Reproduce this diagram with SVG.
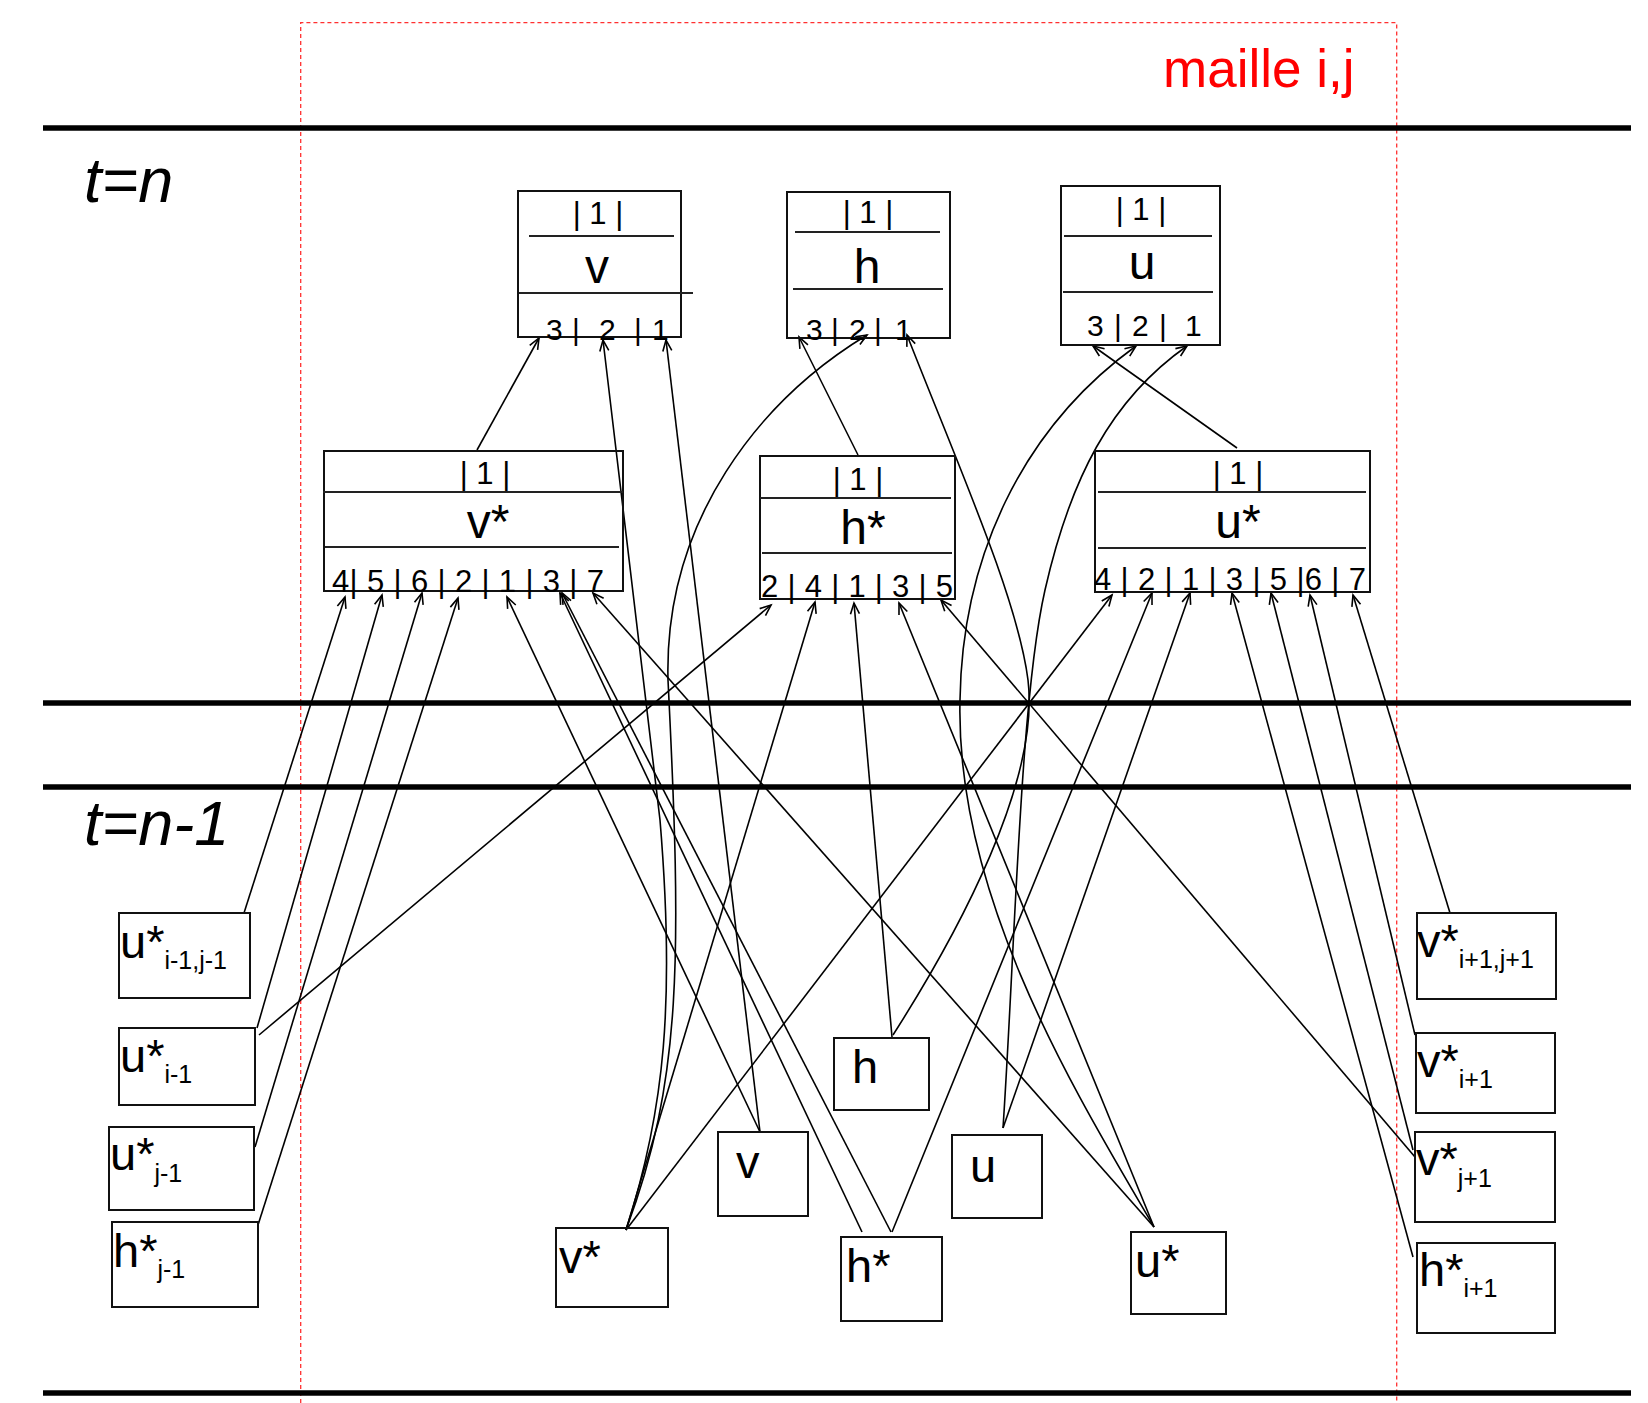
<svg xmlns="http://www.w3.org/2000/svg" width="1648" height="1403" viewBox="0 0 1648 1403">
<defs>
<style>
text{font-family:"Liberation Sans",Arial,sans-serif;fill:#000}
.box{fill:none;stroke:#111;stroke-width:2}
.sep{stroke:#222;stroke-width:2}
.thick{stroke:#000;stroke-width:5.5}
.c{fill:none;stroke:#000;stroke-width:1.6;marker-end:url(#ah)}
.one{font-size:31px;text-anchor:middle}
.big{font-size:48px;text-anchor:middle}
.port{font-size:30px}
.port7{font-size:31px}
.lbl{font-size:47px}
.sub{font-size:25px}
.t{font-size:63px;font-style:italic}
</style>
<marker id="ah" markerUnits="userSpaceOnUse" markerWidth="16" markerHeight="14" refX="0" refY="0" viewBox="-13 -7 16 14" orient="auto" overflow="visible">
<path d="M-11,-4.5 L0,0 L-11,4.5" fill="none" stroke="#000" stroke-width="1.6"/>
</marker>
</defs>
<rect width="1648" height="1403" fill="#fff"/>

<g id="frame">
<path d="M300.7,1403 V22.7 H1396.7 V1403" fill="none" stroke="#ff3030" stroke-width="1.3" stroke-dasharray="4,3"/>
<text x="1163" y="87" font-size="53" style="fill:#ff0000">maille i,j</text>
<line class="thick" x1="43" y1="128" x2="1631" y2="128"/>
<line class="thick" x1="43" y1="703" x2="1631" y2="703"/>
<line class="thick" x1="43" y1="787" x2="1631" y2="787"/>
<line class="thick" x1="43" y1="1393" x2="1631" y2="1393"/>
<text class="t" x="84" y="202">t=n</text>
<text class="t" x="84" y="845">t=n-1</text>
</g>

<g id="connectors">
<path class="c" d="M477,450 L539,338"/>
<path class="c" d="M626,1230 C665,1110 675,1000 660,820 L603,340"/>
<path class="c" d="M760,1132 L666,340"/>
<path class="c" d="M858,455 L799,337"/>
<path class="c" d="M626,1230 C682,1080 682,960 668,680 C664,520 760,400 867,335"/>
<path class="c" d="M893,1035 C960,930 1040,780 1028,680 C1018,600 960,470 907,335"/>
<path class="c" d="M1237,448 L1093,346"/>
<path class="c" d="M1154,1227 C1080,1100 955,900 960,700 C962,560 1020,430 1136,346"/>
<path class="c" d="M1003,1128 C1015,950 1020,700 1045,590 C1070,480 1110,400 1187,346"/>
<path class="c" d="M244,913 L345,597"/>
<path class="c" d="M257,1028 L382,595"/>
<path class="c" d="M255,1147 L422,593"/>
<path class="c" d="M258,1225 L458,598"/>
<path class="c" d="M760,1132 L507,597"/>
<path class="c" d="M862,1232 L560,593"/>
<path class="c" d="M891,1232 L562,593"/>
<path class="c" d="M1154,1227 L593,593"/>
<path class="c" d="M259,1035 L771,605"/>
<path class="c" d="M626,1230 L815,602"/>
<path class="c" d="M892,1037 L854,603"/>
<path class="c" d="M1154,1227 L899,603"/>
<path class="c" d="M1415,1157 L941,600"/>
<path class="c" d="M626,1230 L1112,595"/>
<path class="c" d="M892,1232 L1152,593"/>
<path class="c" d="M1003,1128 L1190,593"/>
<path class="c" d="M1413,1257 L1232,593"/>
<path class="c" d="M1413,1150 L1271,593"/>
<path class="c" d="M1415,1035 L1310,595"/>
<path class="c" d="M1450,913 L1353,595"/>
</g>

<g id="node-v">
<rect class="box" x="518" y="191" width="163" height="146"/>
<line class="sep" x1="529" y1="236" x2="674" y2="236"/>
<line class="sep" x1="519" y1="293" x2="693" y2="293"/>
<text class="one" x="598" y="224">| 1 |</text>
<text class="big" x="597" y="283">v</text>
<text class="port" x="546 572 582 599 619 634 652" y="340">3| 2 |1</text>
</g>
<g id="node-h">
<rect class="box" x="787" y="192" width="163" height="146"/>
<line class="sep" x1="795" y1="232" x2="940" y2="232"/>
<line class="sep" x1="793" y1="289" x2="943" y2="289"/>
<text class="one" x="868" y="223">| 1 |</text>
<text class="big" x="867" y="283">h</text>
<text class="port" x="806 831 849 874 895" y="340">3|2|1</text>
</g>
<g id="node-u">
<rect class="box" x="1061" y="186" width="159" height="159"/>
<line class="sep" x1="1064" y1="236" x2="1212" y2="236"/>
<line class="sep" x1="1063" y1="292" x2="1213" y2="292"/>
<text class="one" x="1141" y="220">| 1 |</text>
<text class="big" x="1142" y="279">u</text>
<text class="port" x="1087 1114 1132 1159 1185" y="336">3|2|1</text>
</g>

<g id="node-vstar">
<rect class="box" x="324" y="451" width="299" height="140"/>
<line class="sep" x1="323" y1="492" x2="623" y2="492"/>
<line class="sep" x1="325" y1="547" x2="619" y2="547"/>
<text class="one" x="485" y="484">| 1 |</text>
<text class="big" x="488" y="538">v*</text>
<text class="port7" x="332" y="592" textLength="272" lengthAdjust="spacing">4| 5 | 6 | 2 | 1 | 3 | 7</text>
</g>
<g id="node-hstar">
<rect class="box" x="760" y="456" width="195" height="143"/>
<line class="sep" x1="760" y1="498" x2="951" y2="498"/>
<line class="sep" x1="762" y1="553" x2="952" y2="553"/>
<text class="one" x="858" y="490">| 1 |</text>
<text class="big" x="863" y="544">h*</text>
<text class="port7" x="761" y="597" textLength="192" lengthAdjust="spacing">2 | 4 | 1 | 3 | 5</text>
</g>
<g id="node-ustar">
<rect class="box" x="1095" y="451" width="275" height="141"/>
<line class="sep" x1="1098" y1="492" x2="1366" y2="492"/>
<line class="sep" x1="1098" y1="548" x2="1366" y2="548"/>
<text class="one" x="1238" y="484">| 1 |</text>
<text class="big" x="1238" y="538">u*</text>
<text class="port7" x="1094" y="590" textLength="272" lengthAdjust="spacing">4 | 2 | 1 | 3 | 5 |6 | 7</text>
</g>

<g id="node-ustar-im1jm1">
<rect class="box" x="119" y="913" width="131" height="85"/>
<text class="lbl" x="120" y="958">u*<tspan class="sub" dy="11">i-1,j-1</tspan></text>
</g>
<g id="node-ustar-im1">
<rect class="box" x="119" y="1028" width="136" height="77"/>
<text class="lbl" x="120" y="1072">u*<tspan class="sub" dy="11">i-1</tspan></text>
</g>
<g id="node-ustar-jm1">
<rect class="box" x="109" y="1127" width="145" height="83"/>
<text class="lbl" x="110" y="1170">u*<tspan class="sub" dy="12">j-1</tspan></text>
</g>
<g id="node-hstar-jm1">
<rect class="box" x="112" y="1222" width="146" height="85"/>
<text class="lbl" x="113" y="1267">h*<tspan class="sub" dy="11">j-1</tspan></text>
</g>

<g id="node-vstar-old">
<rect class="box" x="556" y="1228" width="112" height="79"/>
<text class="lbl" x="559" y="1273">v*</text>
</g>
<g id="node-v-old">
<rect class="box" x="718" y="1132" width="90" height="84"/>
<text class="lbl" x="736" y="1178">v</text>
</g>
<g id="node-h-old">
<rect class="box" x="834" y="1038" width="95" height="72"/>
<text class="lbl" x="852" y="1083">h</text>
</g>
<g id="node-hstar-old">
<rect class="box" x="841" y="1237" width="101" height="84"/>
<text class="lbl" x="846" y="1282">h*</text>
</g>
<g id="node-u-old">
<rect class="box" x="952" y="1135" width="90" height="83"/>
<text class="lbl" x="970" y="1182">u</text>
</g>
<g id="node-ustar-old">
<rect class="box" x="1131" y="1232" width="95" height="82"/>
<text class="lbl" x="1135" y="1277">u*</text>
</g>

<g id="node-vstar-ip1jp1">
<rect class="box" x="1417" y="913" width="139" height="86"/>
<text class="lbl" x="1417" y="957">v*<tspan class="sub" dy="11">i+1,j+1</tspan></text>
</g>
<g id="node-vstar-ip1">
<rect class="box" x="1416" y="1033" width="139" height="80"/>
<text class="lbl" x="1417" y="1077">v*<tspan class="sub" dy="11">i+1</tspan></text>
</g>
<g id="node-vstar-jp1">
<rect class="box" x="1415" y="1132" width="140" height="90"/>
<text class="lbl" x="1416" y="1175">v*<tspan class="sub" dy="12">j+1</tspan></text>
</g>
<g id="node-hstar-ip1">
<rect class="box" x="1417" y="1243" width="138" height="90"/>
<text class="lbl" x="1419" y="1286">h*<tspan class="sub" dy="11">i+1</tspan></text>
</g>
</svg>
